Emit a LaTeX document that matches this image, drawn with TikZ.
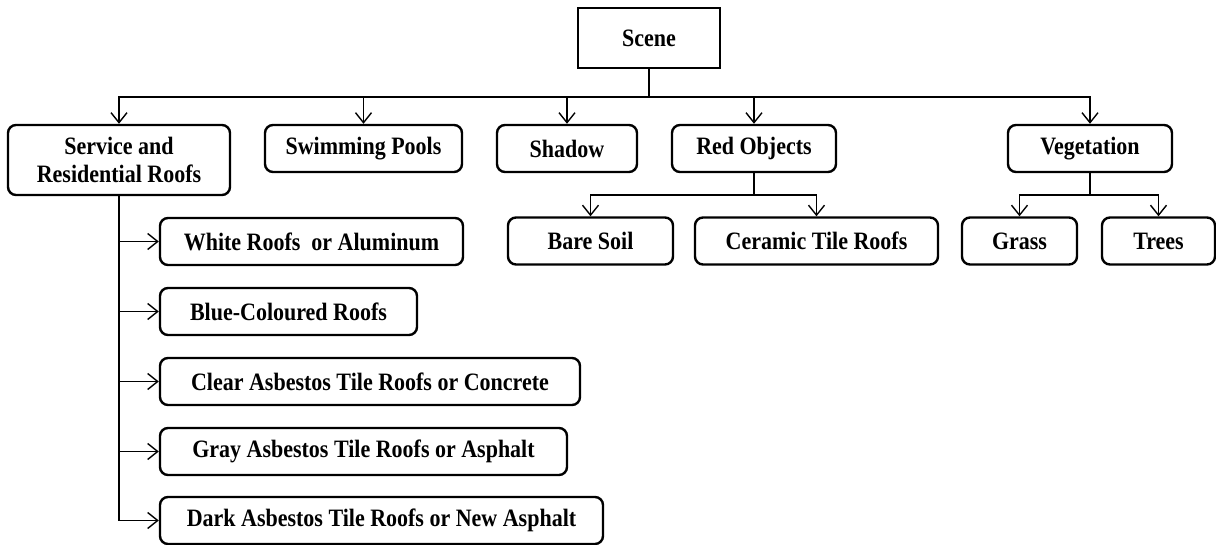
\documentclass[tikz,border=0pt]{standalone}
\usepackage{fontspec}
\setmainfont{Liberation Serif}[FakeStretch=0.88]
\usetikzlibrary{arrows.meta}

\begin{document}
\begin{tikzpicture}[x=1pt,y=-1pt,>={Straight Barb[length=10pt,width=16pt]},
    catbox/.style={draw,fill=white,rounded corners=8pt,line width=2.4pt,minimum height=47pt,
      inner sep=0pt,align=center,font=\fontsize{25}{28}\selectfont\bfseries},
    rootbox/.style={catbox,sharp corners,minimum height=60pt},
    link/.style={line width=1.4pt}]
    \useasboundingbox (0,0) rectangle (1216,545);
    % root of the tree
    \node[rootbox,minimum width=142pt] (scene) at (649,38) {Scene};
    % first level classes
    \node[catbox,minimum width=222pt,minimum height=70pt] (service) at (119,160) {Service and\\Residential Roofs};
    \node[catbox,minimum width=197pt] (pools) at (363.5,148.5) {Swimming Pools};
    \node[catbox,minimum width=140pt] (shadow) at (567,148.5) {Shadow};
    \node[catbox,minimum width=164pt] (red) at (754,148.5) {Red Objects};
    \node[catbox,minimum width=164pt] (veg) at (1090,148.5) {Vegetation};
    % second level under red objects and vegetation
    \node[catbox,minimum width=165pt] (bare) at (590.5,241) {Bare Soil};
    \node[catbox,minimum width=243pt] (ceramic) at (816.5,241) {Ceramic Tile Roofs};
    \node[catbox,minimum width=115pt] (grass) at (1019.5,241) {Grass};
    \node[catbox,minimum width=113pt] (trees) at (1158.5,241) {Trees};
    % roof types
    \node[catbox,minimum width=303pt] (white) at (311.5,241.5) {White Roofs \ or Aluminum};
    \node[catbox,minimum width=257pt] (blue) at (288.5,311.5) {Blue-Coloured Roofs};
    \node[catbox,minimum width=420pt] (clear) at (370,381.5) {Clear Asbestos Tile Roofs or Concrete};
    \node[catbox,minimum width=407pt] (gray) at (363.5,451.5) {Gray Asbestos Tile Roofs or Asphalt};
    \node[catbox,minimum width=443pt] (dark) at (381.5,520.5) {Dark Asbestos Tile Roofs or New Asphalt};
    % connectors from the root
    \coordinate (bus) at (649,97);
    \draw[link] (scene) -- (bus);
    \foreach \n in {service,pools,shadow,red,veg}
      \draw[link,->] (bus) -| (\n);
    % connectors from red objects
    \coordinate (redbus) at (754,195);
    \draw[link] (red) -- (redbus);
    \draw[link,->] (redbus) -| (bare);
    \draw[link,->] (redbus) -| (ceramic);
    % connectors from vegetation
    \coordinate (vegbus) at (1090,195);
    \draw[link] (veg) -- (vegbus);
    \draw[link,->] (vegbus) -| (grass);
    \draw[link,->] (vegbus) -| (trees);
    % connectors to the roof types
    \foreach \n in {white,blue,clear,gray,dark}
      \draw[link,->] (service.south) |- (\n);
\end{tikzpicture}
\end{document}
